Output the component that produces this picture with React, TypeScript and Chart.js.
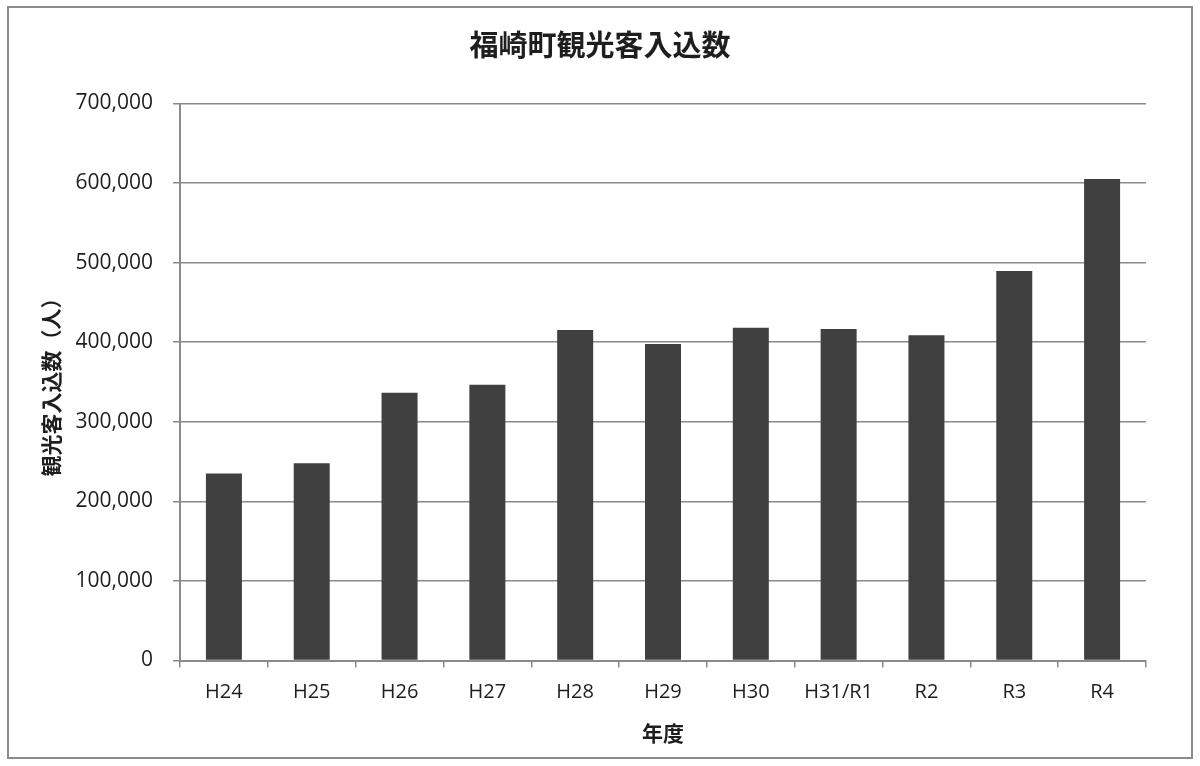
import React, { useEffect, useRef } from 'react';
import { Chart, registerables } from 'chart.js';

Chart.register(...registerables);

// 年度と観光客入込数（人）
const years = ['H24', 'H25', 'H26', 'H27', 'H28', 'H29', 'H30', 'H31/R1', 'R2', 'R3', 'R4'];
const visitors = [235000, 248000, 336600, 346600, 415400, 397800, 418300, 416600, 408700, 489500, 605000];

const titleText = '福崎町観光客入込数';
const yTitle = '観光客入込数（人）';
const xTitle = '年度';

const gridGray = '#8a8a8a';
const textColor = '#1e1e1e';
const labelFont = '"Open Sans", "Noto Sans CJK JP", sans-serif';
const cjkFont = '"Noto Sans CJK JP", sans-serif';

// title centred on the whole canvas, like the Excel chart
const centerTitle = {
    id: 'centerTitle',
    afterDraw(chart: Chart) {
        const ctx = chart.ctx;
        ctx.save();
        ctx.font = `bold 29px ${cjkFont}`;
        ctx.fillStyle = textColor;
        ctx.textAlign = 'center';
        ctx.textBaseline = 'middle';
        ctx.fillText(titleText, chart.width / 2, 45);
        ctx.restore();
    },
};

const App: React.FC = () => {
    const canvasRef = useRef<HTMLCanvasElement>(null);

    useEffect(() => {
        if (!canvasRef.current) return;

        const chart = new Chart(canvasRef.current, {
            type: 'bar',
            data: {
                labels: years,
                datasets: [{
                    label: titleText,
                    data: visitors,
                    backgroundColor: '#404040',
                    barPercentage: 0.41,
                    categoryPercentage: 1,
                }],
            },
            options: {
                animation: false,
                responsive: false,
                devicePixelRatio: 1,
                layout: {
                    padding: { top: 103.5, left: 38, right: 54, bottom: 20 },
                },
                plugins: {
                    legend: { display: false },
                    tooltip: { enabled: false },
                    title: { display: false },
                },
                scales: {
                    x: {
                        afterFit: (scale: any) => { scale.height = 85.5; },
                        grid: {
                            drawOnChartArea: false,
                            drawTicks: true,
                            tickLength: 7,
                            color: gridGray,
                            lineWidth: 1.5,
                        },
                        border: { display: true, color: gridGray, width: 2 },
                        ticks: {
                            color: textColor,
                            padding: 13,
                            font: { family: labelFont, size: 20 },
                            maxRotation: 0,
                        },
                        title: {
                            display: true,
                            text: xTitle,
                            color: textColor,
                            font: { family: cjkFont, size: 21, weight: 'bold' },
                            padding: { top: 8, bottom: 0 },
                        },
                    },
                    y: {
                        min: 0,
                        max: 700000,
                        afterFit: (scale: any) => { scale.width = 142; },
                        grid: {
                            color: gridGray,
                            lineWidth: 1.5,
                            tickLength: 7,
                        },
                        border: { display: true, color: gridGray, width: 2 },
                        ticks: {
                            stepSize: 100000,
                            color: textColor,
                            padding: 20,
                            font: { family: labelFont, size: 21 },
                            callback: (v: any) => Number(v).toLocaleString('en-US'),
                        },
                        title: {
                            display: true,
                            text: yTitle,
                            color: textColor,
                            font: { family: cjkFont, size: 21, weight: 'bold' },
                            padding: { top: 0, bottom: 0 },
                        },
                    },
                },
            },
            plugins: [centerTitle],
        });

        return () => {
            chart.destroy();
        };
    }, []);

    return (
        <div style={{ position: 'absolute', left: 0, top: 0, width: 1200, height: 766, background: '#fff' }}>
            <div
                style={{
                    position: 'absolute',
                    left: 7,
                    top: 6,
                    width: 1186,
                    height: 753,
                    boxSizing: 'border-box',
                    border: '2px solid #8c8c8c',
                }}
            />
            <canvas ref={canvasRef} width={1200} height={766} style={{ position: 'absolute', left: 0, top: 0 }} />
        </div>
    );
};

export default App;
